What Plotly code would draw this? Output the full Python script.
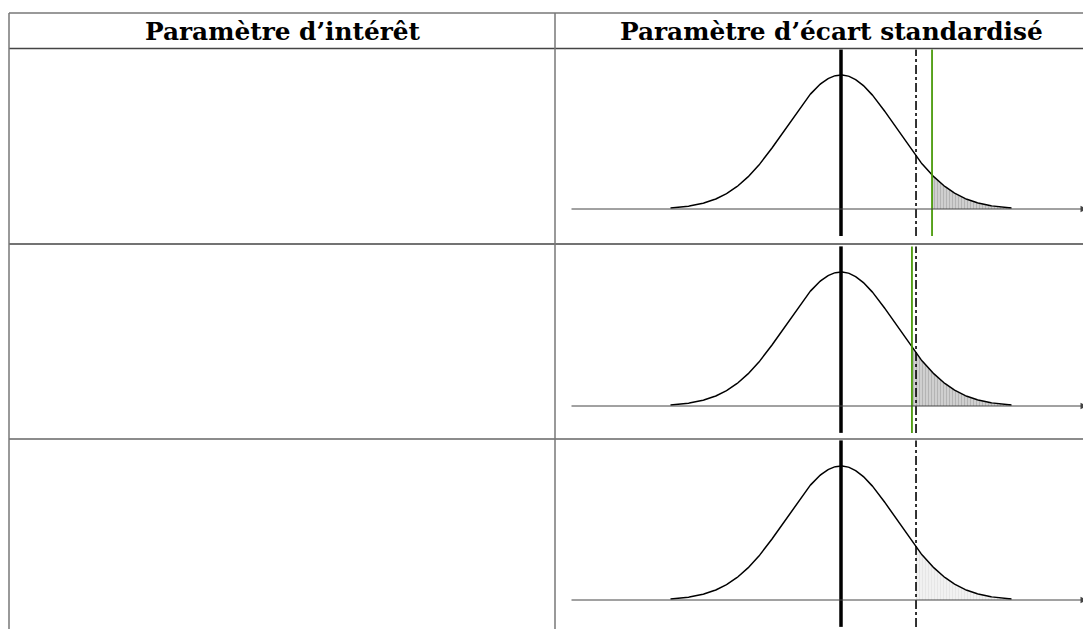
import numpy as np
import plotly.graph_objects as go

# ---------------- data ----------------
headers = ["Paramètre d’intérêt", "Paramètre d’écart standardisé"]
mean, sd = 0.0, 1.0
curve_span = [-3.1, 3.1]          # extent of the drawn density (in sd units)
critical_value = 1.364            # dash-dot line
statistics = [1.655, 1.29, None]  # green line per row (None = not shown)
shade_from = [1.655, 1.29, 1.364] # start of the shaded tail per row
shade_style = ["dark", "dark", "light"]

# ---------------- layout constants (page pixels) ----------------
OFF = 8  # default page body margin
W, H = 1091, 629
table_left, col_split = 9, 555
table_top, header_bottom = 13, 48.5
row_tops = [48.5, 244, 439]
row_bottoms = [244, 439, 640]
baselines = [209, 406, 600]
center_px, sd_px = 841, 55.0
dens_px = 336.0  # pixels per density unit
axis_start_px, axis_end_px = 570, 1087
line_lo, line_hi = -0.08, 0.475

def fx(p):  # page px -> paper x
    return (p - OFF) / W

def fy(p):  # page px -> paper y
    return 1 - (p - OFF) / H

def px_x(p):
    return (p - center_px) / sd_px

fig = go.Figure()

z = np.linspace(curve_span[0], curve_span[1], 400)
dens = np.exp(-0.5 * ((z - mean) / sd) ** 2) / (sd * np.sqrt(2 * np.pi))

annotations = []
shapes = []
for i in range(3):
    n = "" if i == 0 else str(i + 1)
    xa, ya = "x" + n, "y" + n
    top = row_tops[i]
    bot = min(row_bottoms[i], H + OFF)
    ymax = (baselines[i] - top) / dens_px
    ymin = -(bot - baselines[i]) / dens_px
    fig.update_layout(**{
        "xaxis" + n: dict(domain=[fx(col_split), 1], range=[px_x(col_split), px_x(W + OFF)],
                          visible=False, fixedrange=True),
        "yaxis" + n: dict(domain=[fy(bot), fy(top)], range=[ymin, ymax],
                          visible=False, fixedrange=True),
    })
    # shaded tail
    m = z >= shade_from[i]
    zt = np.concatenate([[shade_from[i]], z[m]])
    dt = np.exp(-0.5 * ((zt - mean) / sd) ** 2) / (sd * np.sqrt(2 * np.pi))
    if shade_style[i] == "dark":
        patt = dict(shape="|", bgcolor="#cfcfcf", fgcolor="#9a9a9a", size=3, solidity=0.35)
    else:
        patt = dict(shape="|", bgcolor="#f1f1f1", fgcolor="#dcdcdc", size=3, solidity=0.35)
    fig.add_trace(go.Scatter(x=zt, y=dt, mode="lines", line=dict(width=0),
                             fill="tozeroy", fillcolor="rgba(0,0,0,0)", fillpattern=patt,
                             xaxis=xa, yaxis=ya, showlegend=False, hoverinfo="skip"))
    # axis with arrow
    annotations.append(dict(x=px_x(axis_end_px), y=0, ax=px_x(axis_start_px), ay=0,
                            xref=xa, yref=ya, axref=xa, ayref=ya, text="",
                            showarrow=True, arrowhead=2, arrowsize=1.3, arrowwidth=1,
                            arrowcolor="#444"))
    # density curve
    fig.add_trace(go.Scatter(x=z, y=dens, mode="lines", line=dict(color="black", width=1.5),
                             xaxis=xa, yaxis=ya, showlegend=False, hoverinfo="skip"))
    # mean line (thick)
    fig.add_trace(go.Scatter(x=[mean, mean], y=[line_lo, line_hi], mode="lines",
                             line=dict(color="black", width=3.5),
                             xaxis=xa, yaxis=ya, showlegend=False, hoverinfo="skip"))
    # critical value (dash-dot)
    fig.add_trace(go.Scatter(x=[critical_value] * 2, y=[line_lo, line_hi], mode="lines",
                             line=dict(color="black", width=1.6, dash="dashdot"),
                             xaxis=xa, yaxis=ya, showlegend=False, hoverinfo="skip"))
    # statistic (green)
    if statistics[i] is not None:
        fig.add_trace(go.Scatter(x=[statistics[i]] * 2, y=[line_lo, line_hi], mode="lines",
                                 line=dict(color="#4a9a0a", width=1.8),
                                 xaxis=xa, yaxis=ya, showlegend=False, hoverinfo="skip"))

# table lines
def hline(y, x0, x1, color="#555", width=1.5):
    shapes.append(dict(type="line", xref="paper", yref="paper", x0=fx(x0), x1=fx(x1),
                       y0=fy(y), y1=fy(y), line=dict(color=color, width=width)))

def vline(x, y0, y1, color="#666", width=1.5):
    shapes.append(dict(type="line", xref="paper", yref="paper", x0=fx(x), x1=fx(x),
                       y0=fy(y0), y1=fy(y1), line=dict(color=color, width=width)))

hline(table_top, table_left, W + OFF, "#777")
hline(header_bottom, table_left, W + OFF, "#444")
hline(row_tops[1], table_left, W + OFF, "#444")
hline(row_tops[2], table_left, W + OFF, "#666")
vline(table_left, table_top, H + OFF, "#777")
vline(col_split, table_top, H + OFF, "#777")

centers = [283, 831.5]
for t, cx in zip(headers, centers):
    annotations.append(dict(x=fx(cx), y=fy((table_top + header_bottom) / 2 + 0.5),
                            xref="paper", yref="paper", text="<b>" + t + "</b>",
                            showarrow=False, xanchor="center", yanchor="middle",
                            font=dict(family="DejaVu Serif", size=24.8, color="black")))

fig.update_layout(width=W, height=H, margin=dict(l=0, r=0, t=0, b=0),
                  paper_bgcolor="white", plot_bgcolor="rgba(0,0,0,0)",
                  shapes=shapes, annotations=annotations, showlegend=False)

fig.write_html("out.html", config={"displayModeBar": False})
